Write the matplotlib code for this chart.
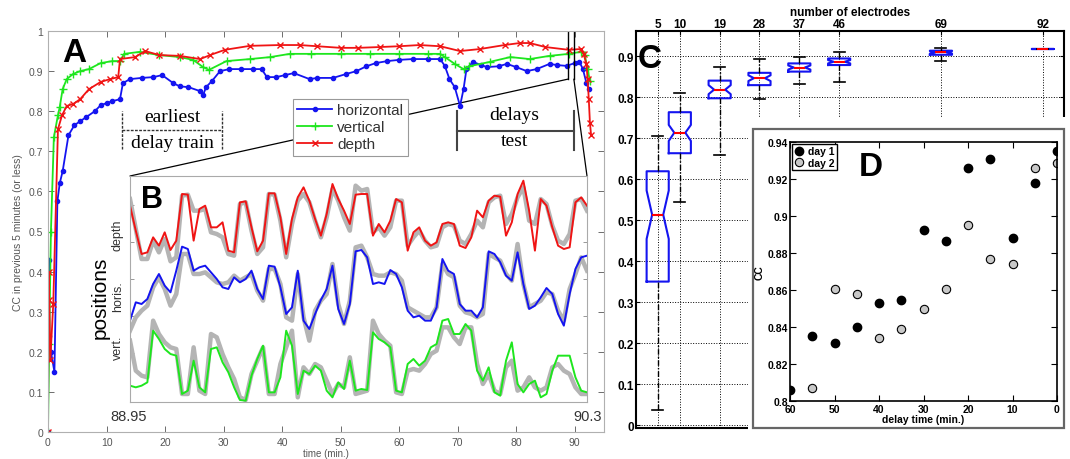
import matplotlib
matplotlib.use("Agg")
import matplotlib.pyplot as plt
import numpy as np
from matplotlib.patches import ConnectionPatch, Rectangle

plt.rcParams['font.family'] = ['Liberation Sans', 'DejaVu Sans']

W, H = 1070, 460
BLUE, GREEN, RED = '#1414f0', '#1ee61e', '#f01414'
GREY_TXT = '#555555'
SERIF = 'Liberation Serif'

# ---------------- panel A: CC over the session ----------------
horiz_t = [0, 0.1, 0.25, 0.5, 1.1, 1.6, 2.0, 2.5, 3.5, 4.5, 5.5, 6.5, 8, 9, 10, 11,
           12.3, 12.8, 14, 16, 18, 19.5, 21.4, 22.5, 24, 26, 26.5, 27, 28, 29.4, 31,
           33, 35, 36.5, 37.4, 39, 40.5, 42, 44.7, 46, 48.7, 51, 52.7, 54.4, 56, 58,
           60, 62.3, 65, 67, 67.8, 68.6, 69.5, 70.4, 71, 71.5, 72.6, 74, 75, 77,
           78.4, 80, 81.8, 83.5, 85.7, 87, 88.6, 90, 90.8, 91.4, 92, 92.4]
horiz_cc = [0.0, 0.43, 0.24, 0.2, 0.15, 0.575, 0.62, 0.65, 0.74, 0.765, 0.775, 0.785,
            0.80, 0.815, 0.82, 0.825, 0.83, 0.87, 0.88, 0.883, 0.885, 0.89, 0.87,
            0.862, 0.86, 0.85, 0.84, 0.86, 0.875, 0.90, 0.905, 0.905, 0.905, 0.905,
            0.885, 0.885, 0.89, 0.895, 0.88, 0.883, 0.883, 0.893, 0.90, 0.912, 0.92,
            0.925, 0.928, 0.93, 0.93, 0.93, 0.913, 0.88, 0.86, 0.813, 0.855, 0.905,
            0.923, 0.915, 0.91, 0.912, 0.918, 0.91, 0.90, 0.905, 0.918, 0.915, 0.913,
            0.92, 0.923, 0.905, 0.87, 0.855]

vert_t = [0, 0.2, 0.5, 1.0, 1.7, 2.0, 2.5, 3.2, 4.3, 5.5, 7, 9, 11, 12.3, 13, 15.7,
          19, 22.5, 24.8, 26.5, 27.5, 30.5, 34.5, 38, 41.3, 45, 50, 55, 60, 65, 67,
          67.8, 69.5, 71, 72, 75.5, 79, 82.3, 85.7, 89, 91, 91.7, 92.2, 92.6]
vert_cc = [0, 0.22, 0.5, 0.735, 0.79, 0.81, 0.855, 0.88, 0.893, 0.9, 0.905, 0.92,
           0.925, 0.925, 0.943, 0.948, 0.94, 0.935, 0.928, 0.91, 0.903, 0.925, 0.93,
           0.935, 0.943, 0.943, 0.943, 0.943, 0.943, 0.943, 0.943, 0.935, 0.918,
           0.905, 0.912, 0.923, 0.935, 0.93, 0.938, 0.943, 0.948, 0.94, 0.905, 0.875]

depth_t = [0, 0.1, 0.2, 0.4, 0.9, 1.7, 2.4, 3.2, 4.3, 5.5, 7, 9, 10.6, 12, 12.3,
           14.9, 16.6, 19, 22.5, 26, 27.7, 30.2, 34.5, 39.6, 43, 46, 50, 53, 56.7,
           60, 63.5, 67, 70.4, 73.8, 78, 80.6, 82.3, 85, 89, 91, 91.5, 92, 92.2,
           92.4, 92.6, 92.8]
depth_cc = [0, 0.4, 0.33, 0.18, 0.32, 0.755, 0.79, 0.813, 0.818, 0.83, 0.855, 0.873,
            0.88, 0.885, 0.93, 0.935, 0.95, 0.94, 0.938, 0.93, 0.94, 0.953, 0.963,
            0.965, 0.965, 0.962, 0.958, 0.958, 0.96, 0.962, 0.965, 0.962, 0.95,
            0.955, 0.965, 0.97, 0.97, 0.96, 0.953, 0.955, 0.943, 0.918, 0.88, 0.83,
            0.77, 0.74]

# ---------------- panel B: decoded (colour) vs true (grey) positions ----------------
zoom_window = (88.95, 90.3)
# vertical position inside the inset, in screen units (larger = lower)
depth_dec = [95, 170, 240, 235, 190, 215, 175, 228, 200, 60, 62, 200, 105, 95, 160, 160, 145, 230, 235, 85, 82,
             160, 232, 200, 58, 58, 130, 240, 135, 70, 40, 80, 135, 185, 120, 30, 75, 110, 150, 62, 60,
             60, 185, 150, 175, 140, 75, 85, 230, 175, 160, 200, 215, 205, 150, 145, 150, 215, 222, 190, 110,
             130, 80, 65, 68, 185, 145, 60, 20, 110, 230, 75, 95, 160, 215, 225, 220, 85, 70, 95]
depth_true = [75, 165, 255, 255, 200, 235, 195, 262, 250, 65, 62, 110, 110, 105, 175, 180, 190, 240, 245, 90, 85,
              170, 240, 220, 60, 62, 140, 250, 150, 80, 60, 85, 140, 190, 130, 45, 80, 130, 170, 35, 50,
              45, 175, 160, 185, 160, 80, 80, 215, 190, 170, 200, 220, 215, 160, 150, 155, 200, 210, 180, 140,
              160, 85, 70, 65, 150, 120, 70, 40, 140, 150, 75, 90, 155, 200, 210, 180, 80, 75, 110]
horis_dec = [440, 385, 390, 375, 330, 300, 335, 355, 290, 218, 225, 290, 280, 275, 295, 315, 340, 345, 310, 325, 315,
             290, 345, 375, 275, 278, 340, 420, 400, 290, 440, 465, 420, 378, 345, 275, 405, 450, 390, 232, 228,
             250, 330, 325, 330, 288, 300, 340, 410, 430, 425, 440, 440, 400, 255, 290, 300, 390, 410, 410, 430,
             400, 232, 240, 265, 305, 320, 235, 330, 405, 395, 370, 342, 360, 420, 455, 360, 285, 250, 245]
horis_true = [470, 430, 410, 395, 340, 310, 345, 395, 360, 240, 240, 300, 300, 295, 310, 325, 330, 325, 305, 320, 310,
              300, 350, 380, 285, 285, 330, 430, 440, 300, 430, 500, 410, 380, 360, 270, 390, 450, 380, 220, 215,
              250, 300, 305, 305, 295, 300, 320, 400, 410, 420, 430, 430, 400, 270, 300, 310, 395, 415, 420, 430,
              420, 240, 250, 260, 300, 320, 210, 330, 400, 390, 380, 355, 360, 410, 440, 345, 300, 250, 290]
vert_dec = [635, 640, 635, 625, 470, 495, 525, 540, 545, 660, 650, 560, 640, 655, 525, 520, 565, 595, 640, 678, 680,
            605, 555, 515, 655, 655, 610, 470, 515, 660, 590, 600, 575, 590, 650, 670, 625, 645, 560, 650, 645,
            648, 475, 495, 505, 520, 650, 655, 570, 555, 575, 560, 520, 510, 440, 435, 480, 480, 450, 470, 590,
            620, 580, 655, 665, 560, 505, 630, 655, 630, 620, 670, 660, 590, 545, 545, 545, 610, 650, 655]
vert_true = [500, 590, 605, 610, 440, 480, 505, 520, 525, 660, 660, 520, 650, 660, 480, 490, 540, 580, 615, 670, 678,
             600, 560, 520, 660, 660, 570, 520, 470, 670, 580, 600, 570, 580, 620, 660, 630, 640, 550, 660, 655,
             650, 440, 480, 500, 515, 655, 660, 590, 585, 590, 570, 540, 530, 460, 460, 490, 510, 460, 460, 570,
             630, 600, 650, 660, 580, 560, 650, 640, 610, 640, 650, 640, 580, 570, 590, 600, 640, 660, 660]

# ---------------- panel C: CC vs number of electrodes ----------------
elec = [5, 10, 19, 28, 37, 46, 69, 92]
c_whislo = [0.037, 0.543, 0.659, 0.795, 0.832, 0.836, 0.889, 0.917]
c_q1 = [0.350, 0.663, 0.797, 0.829, 0.862, 0.878, 0.903, 0.917]
c_med = [0.513, 0.713, 0.818, 0.846, 0.872, 0.886, 0.909, 0.917]
c_q3 = [0.619, 0.763, 0.840, 0.859, 0.882, 0.894, 0.913, 0.917]
c_whishi = [0.706, 0.810, 0.874, 0.893, 0.898, 0.911, 0.919, 0.917]
c_cilo = [0.454, 0.693, 0.807, 0.839, 0.867, 0.882, 0.906, 0.917]
c_cihi = [0.572, 0.732, 0.829, 0.853, 0.877, 0.890, 0.912, 0.917]

# ---------------- panel D: CC vs delay ----------------
d1_delay = [60, 55, 50, 45, 40, 35, 30, 25, 20, 15, 10, 5, 0]
d1_cc = [0.806, 0.835, 0.8315, 0.840, 0.853, 0.8545, 0.8925, 0.8865, 0.926, 0.931, 0.888, 0.918, 0.935]
d2_delay = [55, 50, 45, 40, 35, 30, 25, 20, 15, 10, 5, 0]
d2_cc = [0.807, 0.8605, 0.8578, 0.834, 0.8388, 0.850, 0.8605, 0.8952, 0.877, 0.874, 0.926, 0.9287]


def box(left, top, right, bottom):
    return [left / W, 1 - bottom / H, (right - left) / W, (bottom - top) / H]


def fpos(x, y):
    return x / W, 1 - y / H


fig = plt.figure(figsize=(W / 100, H / 100), dpi=100)

# ---- A ----
axA = fig.add_axes(box(48, 32, 604, 433))
axA.plot(horiz_t, horiz_cc, '-', color=BLUE, marker='.', ms=6, lw=1.3, label='horizontal')
axA.plot(vert_t, vert_cc, '-', color=GREEN, marker='+', ms=6, mew=1, lw=1.3, label='vertical')
axA.plot(depth_t, depth_cc, '-', color=RED, marker='x', ms=4.5, mew=1, lw=1.3, label='depth')
axA.set_xlim(0, 95)
axA.set_ylim(0, 1)
axA.set_xticks(range(0, 100, 10))
yt = np.round(np.arange(0, 1.01, 0.1), 1)
axA.set_yticks(yt)
axA.set_yticklabels(['0'] + ['%g' % v for v in yt[1:]])
axA.tick_params(direction='in', top=True, right=True, colors=GREY_TXT,
                labelsize=7.5, length=4, width=0.6)
for s in axA.spines.values():
    s.set_color('#b0b0b0')
axA.set_xlabel('time (min.)', fontsize=7, color=GREY_TXT, labelpad=1)
axA.set_ylabel('CC in previous 5 minutes (or less)', fontsize=7.5, color=GREY_TXT, labelpad=4)

leg = axA.legend(loc='upper left', bbox_to_anchor=fpos(285, 92), bbox_transform=fig.transFigure,
                 fontsize=11, fancybox=False, edgecolor='#999999', framealpha=1,
                 borderpad=0.3, handlelength=2.3, handletextpad=0.3, labelspacing=0.2,
                 labelcolor='#333333')
leg.get_frame().set_linewidth(0.8)

# earliest delay train bracket (dashed)
dash = dict(color='#333333', lw=1.0, ls=(0, (2, 1)))
axA.plot([12.6, 12.6], [0.706, 0.80], **dash)
axA.plot([29.7, 29.7], [0.706, 0.80], **dash)
axA.plot([12.6, 29.7], [0.753, 0.753], **dash)
axA.text(21.2, 0.786, 'earliest', family=SERIF, fontsize=14, ha='center', va='center')
axA.text(21.2, 0.722, 'delay train', family=SERIF, fontsize=14, ha='center', va='center')

# delays test bracket (solid)
solid = dict(color='#444444', lw=1.5)
axA.plot([69.8, 69.8], [0.703, 0.80], **solid)
axA.plot([89.8, 89.8], [0.703, 0.80], **solid)
axA.plot([69.8, 89.8], [0.75, 0.75], **solid)
axA.text(79.7, 0.793, 'delays', family=SERIF, fontsize=14, ha='center', va='center')
axA.text(79.7, 0.727, 'test', family=SERIF, fontsize=14, ha='center', va='center')

# zoom window markers
for tz in (88.85, 89.85):
    axA.plot([tz, tz], [0.88, 1.0], color='k', lw=1.0)

axA.text(4.5, 0.947, 'A', fontsize=24, fontweight='bold', ha='center', va='center')

# ---- B ----
axB = fig.add_axes(box(130, 177, 587, 403))
tB = np.linspace(zoom_window[0], zoom_window[1], len(depth_dec))
for true, dec, col in ((depth_true, depth_dec, RED), (horis_true, horis_dec, BLUE),
                       (vert_true, vert_dec, GREEN)):
    axB.plot(tB, true, color='#b4b4b4', lw=3.2, solid_joinstyle='round')
    axB.plot(tB, dec, color=col, lw=1.4)
axB.set_xlim(*zoom_window)
axB.set_ylim(684, 6)
axB.set_xticks([])
axB.set_yticks([93, 204, 315, 426, 537])
axB.tick_params(axis='y', direction='in', left=True, right=True, labelleft=False,
                length=3, width=0.6, colors='#888888')
for s in axB.spines.values():
    s.set_color('#aaaaaa')

for tz, corner in ((88.85, (0, 1)), (89.85, (1, 1))):
    con = ConnectionPatch(xyA=(tz, 0.88), coordsA=axA.transData, xyB=corner,
                          coordsB=axB.transAxes, color='k', lw=0.9)
    axA.add_artist(con)

fig.text(*fpos(152, 200), 'B', fontsize=22, fontweight='bold', ha='center', va='center')
fig.text(*fpos(100, 298), 'positions', rotation=90, fontsize=15, ha='center', va='center')
for lbl, yy in (('depth', 235), ('horis.', 297), ('vert.', 348)):
    fig.text(*fpos(118, yy), lbl, rotation=90, fontsize=9, color='#333333',
             ha='center', va='center')
fig.text(*fpos(129, 417), '88.95', fontsize=10.5, color='#333333', ha='center', va='center')
fig.text(*fpos(588, 417), '90.3', fontsize=10.5, color='#333333', ha='center', va='center')

# ---- C ----
axC = fig.add_axes(box(636, 32, 1064, 429))
stats = []
for i in range(len(elec)):
    stats.append(dict(med=c_med[i], q1=c_q1[i], q3=c_q3[i], whislo=c_whislo[i],
                      whishi=c_whishi[i], cilo=c_cilo[i], cihi=c_cihi[i], fliers=[]))
axC.bxp(stats, positions=elec, widths=5, shownotches=True, showfliers=False,
        boxprops=dict(color=BLUE, lw=1.5),
        medianprops=dict(color='red', lw=1.5),
        whiskerprops=dict(color='k', lw=1.0, ls=(0, (4, 1.5, 1, 1.5))),
        capprops=dict(color='k', lw=1.2), manage_ticks=False)
axC.set_xlim(0.1, 96.8)
axC.set_ylim(-0.007, 0.961)
axC.xaxis.tick_top()
axC.xaxis.set_label_position('top')
axC.set_xticks(elec)
axC.set_xticklabels([str(e) for e in elec])
axC.set_yticks(yt[:10])
axC.set_yticklabels(['0'] + ['%g' % v for v in yt[1:10]])
axC.set_xlabel('number of electrodes', fontsize=8.5, fontweight='bold', labelpad=2.5)
axC.grid(True, ls=':', color='k', lw=0.7)
axC.tick_params(direction='in', right=True, length=3, labelsize=8.5, pad=1.5)
axC.tick_params(axis='x', pad=0.5)
for lab in axC.get_xticklabels() + axC.get_yticklabels():
    lab.set_fontweight('bold')
for s in axC.spines.values():
    s.set_linewidth(1.5)
axC.text(0.004, 0.93, 'C', transform=axC.transAxes, fontsize=24, fontweight='bold',
         ha='left', va='center')

# D sits on a white card over the lower right of C
fig.add_artist(Rectangle(fpos(748, 440), (W - 748) / W, (440 - 118) / H,
                         transform=fig.transFigure, facecolor='white', edgecolor='none', zorder=1))
fig.add_artist(Rectangle(fpos(753, 429), 311 / W, 299 / H, transform=fig.transFigure,
                         fill=False, edgecolor='#666666', lw=1.6, zorder=1.5))

# ---- D ----
axD = fig.add_axes(box(790, 143, 1057, 402))
axD.set_zorder(2)
axD.plot(d1_delay, d1_cc, 'o', color='k', ms=6, label='day 1')
axD.plot(d2_delay, d2_cc, 'o', mfc='#c8c8c8', mec='k', mew=0.8, ms=6, label='day 2')
axD.set_xlim(60, 0)
axD.set_ylim(0.8, 0.94)
axD.set_xticks(range(60, -1, -10))
axD.set_yticks(np.round(np.arange(0.8, 0.941, 0.02), 2))
axD.set_yticklabels(['%g' % v for v in np.round(np.arange(0.8, 0.941, 0.02), 2)])
axD.tick_params(direction='in', top=True, right=True, length=4, labelsize=7.5, pad=1.5)
axD.tick_params(axis='x', pad=2.5)
for lab in axD.get_xticklabels() + axD.get_yticklabels():
    lab.set_fontweight('bold')
for s in axD.spines.values():
    s.set_linewidth(1.2)
axD.set_xlabel('delay time (min.)', fontsize=7.5, fontweight='bold', labelpad=0)
axD.set_ylabel('CC', fontsize=7.5, fontweight='bold', labelpad=2)
legD = axD.legend(loc='upper left', prop={'weight': 'bold', 'size': 7.5}, fancybox=False,
                  edgecolor='k', framealpha=1, borderpad=0.25, handlelength=1.0,
                  handletextpad=0.3, labelspacing=0.15, borderaxespad=0.15)
legD.get_frame().set_linewidth(1.0)
fig.text(*fpos(871, 168), 'D', fontsize=24, fontweight='bold', ha='center', va='center',
         zorder=3)

fig.savefig('out.png', dpi=100)
